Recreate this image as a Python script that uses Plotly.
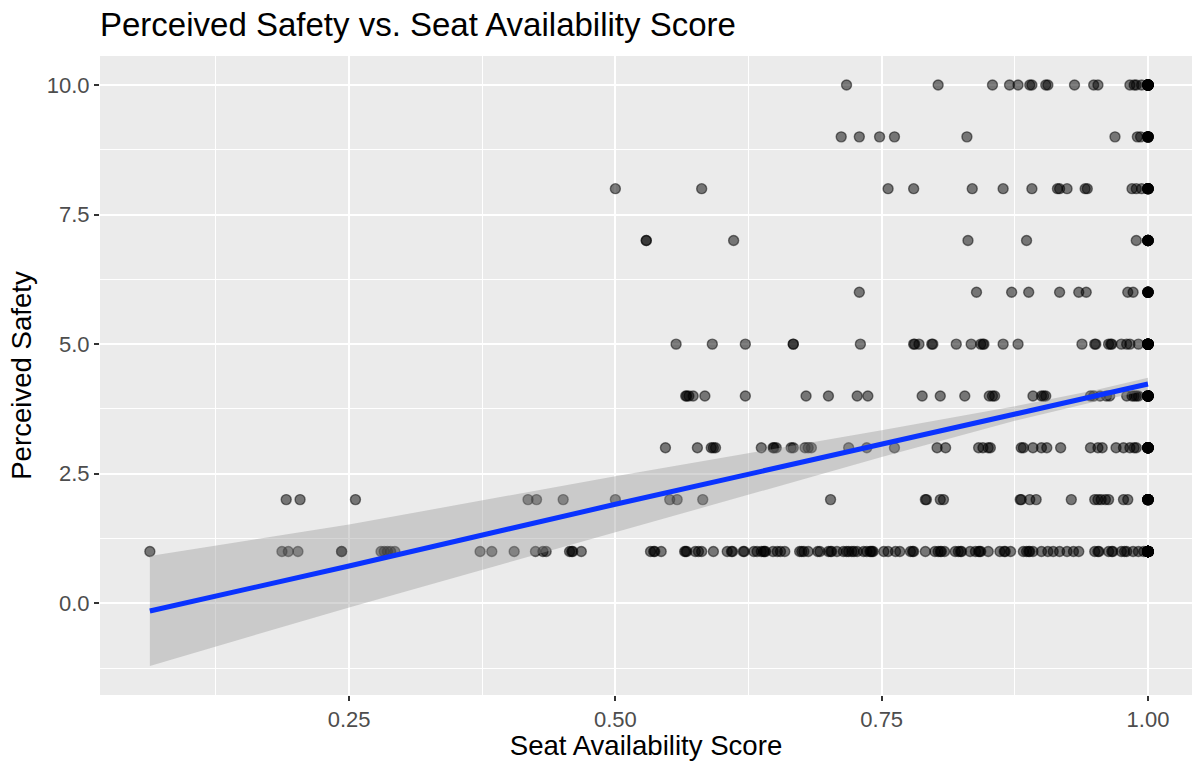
import plotly.graph_objects as go

# Seat availability scores of respondents, grouped by their perceived-safety rating
scores_safety_1 = [0.063, 0.187, 0.193, 0.202, 0.243, 0.243, 0.280, 0.283, 0.286, 0.289, 0.293,
                   0.373, 0.384, 0.405, 0.425, 0.432, 0.435, 0.457, 0.459, 0.460, 0.468,
                   0.533, 0.536, 0.537, 0.543, 0.565, 0.566, 0.567, 0.575, 0.578, 0.581,
                   0.592, 0.605, 0.609, 0.610, 0.620, 0.621, 0.630, 0.633, 0.637, 0.639,
                   0.640, 0.641, 0.648, 0.652, 0.655, 0.659, 0.673, 0.675, 0.677, 0.681,
                   0.690, 0.692, 0.700, 0.702, 0.703, 0.708, 0.714, 0.717, 0.719, 0.722,
                   0.724, 0.727, 0.733, 0.736, 0.739, 0.740, 0.741, 0.742, 0.752, 0.756,
                   0.763, 0.767, 0.777, 0.779, 0.780, 0.791, 0.800, 0.803, 0.805, 0.806,
                   0.809, 0.819, 0.822, 0.824, 0.825, 0.833, 0.838, 0.841, 0.842, 0.843,
                   0.850, 0.861, 0.865, 0.866, 0.871, 0.883, 0.886, 0.888, 0.889, 0.892,
                   0.900, 0.906, 0.911, 0.917, 0.924, 0.930, 0.935, 0.950, 0.953, 0.954,
                   0.963, 0.966, 0.967, 0.975, 0.978, 0.980, 0.986, 0.991, 0.996]
scores_safety_2 = [0.191, 0.204, 0.256, 0.418, 0.426, 0.451, 0.500, 0.551, 0.558, 0.582,
                   0.702, 0.791, 0.792, 0.805, 0.808, 0.880, 0.881, 0.889, 0.895, 0.928,
                   0.950, 0.953, 0.956, 0.960, 0.963, 0.977, 0.981]
scores_safety_3 = [0.547, 0.577, 0.590, 0.592, 0.594, 0.637, 0.648, 0.649, 0.651, 0.665,
                   0.667, 0.678, 0.681, 0.684, 0.719, 0.736, 0.762, 0.802, 0.810, 0.841,
                   0.845, 0.850, 0.852, 0.881, 0.883, 0.892, 0.900, 0.905, 0.918, 0.946,
                   0.953, 0.957, 0.970, 0.977, 0.983, 0.987, 0.989]
scores_safety_4 = [0.566, 0.567, 0.569, 0.573, 0.584, 0.622, 0.679, 0.700, 0.727, 0.737,
                   0.788, 0.805, 0.828, 0.851, 0.854, 0.856, 0.892, 0.900, 0.902, 0.904,
                   0.946, 0.949, 0.955, 0.961, 0.964, 0.980, 0.985, 0.987, 0.989, 0.991]
scores_safety_5 = [0.557, 0.591, 0.622, 0.667, 0.667, 0.730, 0.780, 0.781, 0.785, 0.797,
                   0.798, 0.820, 0.834, 0.843, 0.845, 0.846, 0.864, 0.878, 0.938, 0.950,
                   0.951, 0.963, 0.965, 0.966, 0.975, 0.980, 0.983, 0.991]
scores_safety_6 = [0.729, 0.839, 0.872, 0.888, 0.917, 0.935, 0.942, 0.981, 0.986]
scores_safety_7 = [0.529, 0.529, 0.611, 0.831, 0.886, 0.989]
scores_safety_8 = [0.500, 0.581, 0.756, 0.780, 0.835, 0.864, 0.891, 0.915, 0.917, 0.924,
                   0.941, 0.943, 0.985, 0.989, 0.994]
scores_safety_9 = [0.712, 0.729, 0.748, 0.762, 0.830, 0.969, 0.990, 0.993]
scores_safety_10 = [0.717, 0.803, 0.854, 0.870, 0.878, 0.889, 0.891, 0.904, 0.906, 0.931,
                    0.949, 0.953, 0.983, 0.987, 0.989, 0.994]

# Respondents with a full availability score (1.00), per safety rating 1..10
safety_levels = [1, 2, 3, 4, 5, 6, 7, 8, 9, 10]
full_score_counts = [40, 12, 15, 14, 16, 8, 9, 10, 8, 18]

# Linear fit with its 95% confidence band
fit_x = [0.063, 0.25, 0.50, 0.75, 0.875, 0.95, 1.00]
fit_y = [-0.15, 0.72, 1.91, 3.08, 3.66, 4.00, 4.23]
fit_lo = [-1.21, -0.08, 1.37, 2.82, 3.52, 3.89, 4.11]
fit_hi = [0.91, 1.52, 2.45, 3.34, 3.80, 4.11, 4.35]

grouped = [scores_safety_1, scores_safety_2, scores_safety_3, scores_safety_4, scores_safety_5,
           scores_safety_6, scores_safety_7, scores_safety_8, scores_safety_9, scores_safety_10]

xs, ys = [], []
for level, scores, n_full in zip(safety_levels, grouped, full_score_counts):
    pts = list(scores) + [1.0] * n_full
    xs.extend(pts)
    ys.extend([level] * len(pts))

FONT = "Liberation Sans, Arial, Helvetica, sans-serif"
PANEL = "#EBEBEB"

fig = go.Figure()

fig.add_trace(go.Scatter(
    x=xs, y=ys, mode="markers",
    marker=dict(size=10, color="rgba(0,0,0,0.5)",
                line=dict(color="rgba(0,0,0,0.5)", width=1.4)),
    hoverinfo="skip", showlegend=False,
))

# confidence band
fig.add_trace(go.Scatter(
    x=fit_x + fit_x[::-1], y=fit_hi + fit_lo[::-1],
    fill="toself", fillcolor="rgba(153,153,153,0.4)",
    line=dict(width=0), mode="lines", hoverinfo="skip", showlegend=False,
))

fig.add_trace(go.Scatter(
    x=fit_x, y=fit_y, mode="lines",
    line=dict(color="#0A33FF", width=5),
    hoverinfo="skip", showlegend=False,
))

axis_common = dict(
    showline=False, zeroline=False,
    gridcolor="#FFFFFF", gridwidth=2,
    ticks="outside", ticklen=5, tickwidth=2, tickcolor="#333333",
    tickfont=dict(family=FONT, size=22, color="#4D4D4D"),
)

fig.update_layout(
    width=1192, height=761,
    margin=dict(l=100, r=0, t=56, b=66),
    paper_bgcolor="#FFFFFF", plot_bgcolor=PANEL,
    font=dict(family=FONT),
    title=dict(text="Perceived Safety vs. Seat Availability Score",
               font=dict(family=FONT, size=33, color="#000000"),
               x=100 / 1192, xanchor="left", xref="container",
               y=1 - 24 / 761, yanchor="middle", yref="container"),
    xaxis=dict(
        range=[0.0162, 1.0413], tick0=0.25, dtick=0.25, tickformat=".2f",
        minor=dict(tick0=0.125, dtick=0.25, showgrid=True, gridcolor="#FFFFFF",
                   gridwidth=1, ticks=""),
        title=dict(text="Seat Availability Score", standoff=9,
                   font=dict(family=FONT, size=27.6, color="#000000")),
        **axis_common,
    ),
    yaxis=dict(
        range=[-1.77, 10.56], tick0=0, dtick=2.5, tickformat=".1f",
        minor=dict(tick0=-1.25, dtick=2.5, showgrid=True, gridcolor="#FFFFFF",
                   gridwidth=1, ticks=""),
        title=dict(text="Perceived Safety", standoff=7,
                   font=dict(family=FONT, size=27.6, color="#000000")),
        **axis_common,
    ),
)

fig.write_html("out.html")
